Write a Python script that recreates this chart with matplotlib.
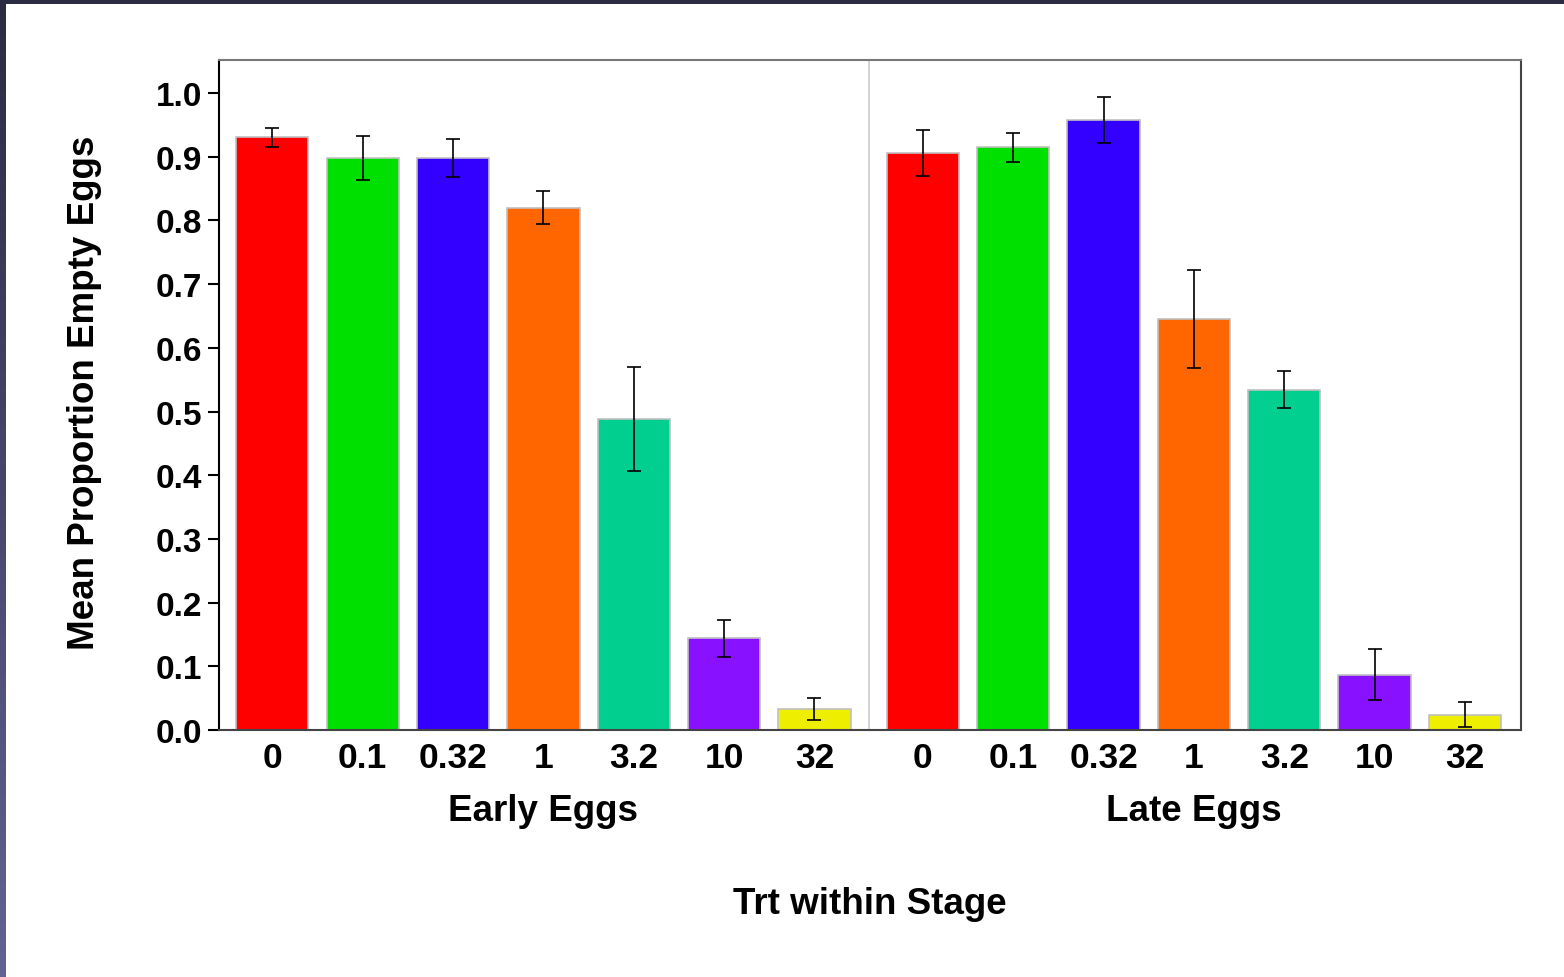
import matplotlib
matplotlib.use("Agg")
import matplotlib.pyplot as plt
import numpy as np

plt.rcParams['font.family'] = ['Liberation Sans', 'DejaVu Sans']
plt.rcParams['font.weight'] = 'bold'

# treatment levels and stage groups
treatments = ['0', '0.1', '0.32', '1', '3.2', '10', '32']
stages = ['Early Eggs', 'Late Eggs']

# mean proportion of empty eggs per treatment, and standard errors
early_mean = [0.931, 0.898, 0.898, 0.820, 0.488, 0.144, 0.033]
early_err = [0.015, 0.034, 0.030, 0.026, 0.082, 0.029, 0.017]
late_mean = [0.906, 0.915, 0.958, 0.645, 0.534, 0.087, 0.024]
late_err = [0.036, 0.023, 0.036, 0.077, 0.029, 0.040, 0.020]

colors = ['#ff0000', '#00e000', '#3300ff', '#ff6600', '#00cf90', '#8811ff', '#eeee00']

fig = plt.figure(figsize=(15.64, 9.78), dpi=100)
fig.patch.set_facecolor('white')

# dark frame along the top and left edges
top = fig.add_axes([0, 1 - 5 / 978, 1, 5 / 978])
top.set_axis_off()
top.add_patch(plt.Rectangle((0, 0), 1, 1, color='#2b2b42', transform=top.transAxes))
left = fig.add_axes([0, 0, 6 / 1564, 1])
grad = np.linspace(0, 1, 256).reshape(-1, 1)
left.imshow(grad, aspect='auto', cmap=matplotlib.colors.LinearSegmentedColormap.from_list(
    'edge', ['#626296', '#2b2b42']), origin='lower', extent=[0, 1, 0, 1])
left.set_axis_off()

ax = fig.add_axes([219 / 1564, 1 - 731 / 978, (1521 - 219) / 1564, (731 - 61) / 978])

gap = 1.2
x_early = np.arange(len(treatments))
x_late = x_early + len(treatments) - 1 + gap
width = 0.8

for xs, means, errs in [(x_early, early_mean, early_err), (x_late, late_mean, late_err)]:
    ax.bar(xs, means, width=width, color=colors, edgecolor='#c0c0c0', linewidth=1.2, zorder=2)
    ax.errorbar(xs, means, yerr=errs, fmt='none', ecolor='black', elinewidth=1.2,
                capsize=5, capthick=1.2, zorder=3)

divider = (x_early[-1] + x_late[0]) / 2
ax.axvline(divider, color='#cccccc', linewidth=1.2, zorder=1)

ax.set_xlim(x_early[0] - 0.59, x_late[-1] + 0.62)
ax.set_ylim(0, 1.052)
ax.set_yticks(np.arange(0, 1.01, 0.1))
ax.set_yticklabels([f'{v:.1f}' for v in np.arange(0, 1.01, 0.1)], fontsize=24, fontweight='bold')
ax.set_xticks(np.concatenate([x_early, x_late]))
ax.set_xticklabels(treatments + treatments, fontsize=25.5, fontweight='bold')
ax.tick_params(axis='x', length=0, pad=8)
ax.tick_params(axis='y', length=8, width=1.5, pad=4)

for side, col in [('left', 'black'), ('bottom', '#444444'), ('top', '#777777'), ('right', '#444444')]:
    ax.spines[side].set_color(col)
    ax.spines[side].set_linewidth(1.5)

ax.set_ylabel('Mean Proportion Empty Eggs', fontsize=26.5, fontweight='bold', va='center')
ax.yaxis.set_label_coords(-0.103, 0.505)

# stage labels under each group
for xs, name in zip([x_early, x_late], stages):
    ax.text(xs.mean(), -0.12, name, transform=ax.get_xaxis_transform(), ha='center', va='center',
            fontsize=26.5, fontweight='bold')

fig.text((219 + 1521) / 2 / 1564, 1 - 905 / 978, 'Trt within Stage', ha='center', va='center',
         fontsize=26.5, fontweight='bold')

fig.savefig('out.png', dpi=100)
